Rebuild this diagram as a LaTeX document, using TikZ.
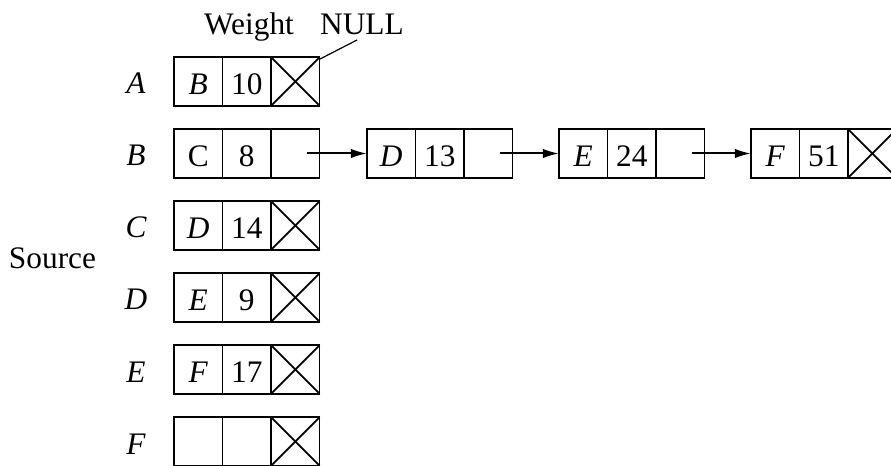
\documentclass[tikz,border=0pt]{standalone}
\usepackage{fontspec}
\setmainfont{Liberation Serif}
\usetikzlibrary{arrows.meta,calc}

% one record of the adjacency list: name, left x, centre y, vertex, weight
\newcommand\listrec[5]{%
  \node[cell] (#1-1) at (#2+24.25,#3) {#4};
  \node[cell,anchor=west] (#1-2) at (#1-1.east) {#5};
  \node[cell,anchor=west] (#1-3) at (#1-2.east) {};
}
% NULL pointer: cross out the last field
\newcommand\nullcell[1]{%
  \draw[edge] (#1-3.north west) -- (#1-3.south east)
              (#1-3.south west) -- (#1-3.north east);
}

\begin{document}
\begin{tikzpicture}[x=0.75pt,y=-0.75pt,
  cell/.style={draw,line width=1.3pt,minimum width=36.4pt,minimum height=36.4pt,
    inner sep=0pt,outer sep=0pt,text height=19pt,text depth=0pt,
    font=\fontsize{23.5}{28}\selectfont},
  txt/.style={font=\fontsize{23.5}{28}\selectfont,inner sep=0pt,anchor=base},
  vlabel/.style={txt,font=\fontsize{23.5}{28}\selectfont\itshape},
  edge/.style={line width=1.3pt},
  link/.style={line width=1.5pt,-{Latex[length=12pt,width=7pt]}}]
\useasboundingbox (0,0) rectangle (891,466);

% header texts
\node[txt] (weight) at (249,35) {Weight};
\node[txt] (null) at (362,35) {NULL};
\node[txt] (source) at (52.5,269) {Source};

% vertex labels
\node[vlabel] (lA) at (136,94) {A};
\node[vlabel] (lB) at (136,166) {B};
\node[vlabel] (lC) at (136,238) {C};
\node[vlabel] (lD) at (136,310) {D};
\node[vlabel] (lE) at (136,382) {E};
\node[vlabel] (lF) at (136,454) {F};

% head records
\listrec{A}{174}{81.5}{\textit{B}}{10}
\listrec{B}{174}{153.5}{C}{8}
\listrec{C}{174}{225.5}{\textit{D}}{14}
\listrec{D}{174}{297.5}{\textit{E}}{9}
\listrec{E}{174}{369.5}{\textit{F}}{17}
\listrec{F}{174}{441.5}{}{}

% chain of B
\listrec{BD}{367}{153.5}{\textit{D}}{13}
\listrec{BE}{559}{153.5}{\textit{E}}{24}
\listrec{BF}{751}{153.5}{\textit{F}}{51}

\nullcell{A}
\nullcell{C}
\nullcell{D}
\nullcell{E}
\nullcell{F}
\nullcell{BF}

\draw[link] ($(B-3)+(12,0)$) -- (BD-1.west);
\draw[link] ($(BD-3)+(12,0)$) -- (BE-1.west);
\draw[link] ($(BE-3)+(12,0)$) -- (BF-1.west);

% leader to the NULL label
\coordinate (nullend) at (357,40);
\draw[line width=0.9pt] ($(A-3.north east)+(0,2)$) -- (nullend);
\end{tikzpicture}
\end{document}
